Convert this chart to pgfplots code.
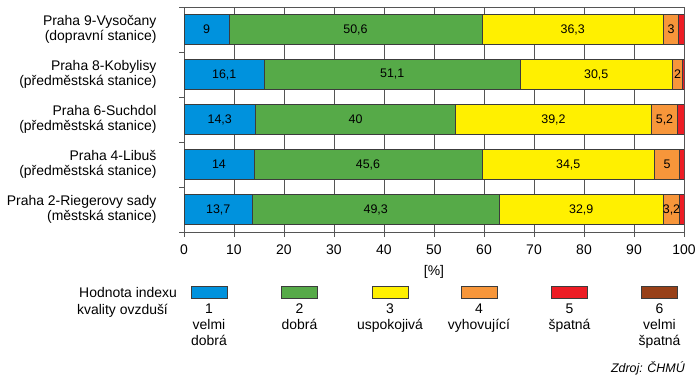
\documentclass[border=0pt]{standalone}
\usepackage{pgfplots}
\pgfplotsset{compat=1.18}
\usepackage{pgfplotstable}
\usepackage{fontspec}
\setmainfont{Liberation Sans}
\definecolor{c1}{RGB}{0,146,221}
\definecolor{c2}{RGB}{86,170,72}
\definecolor{c3}{RGB}{255,240,0}
\definecolor{c4}{RGB}{247,150,58}
\definecolor{c5}{RGB}{237,28,36}
\definecolor{c6}{RGB}{152,64,24}
\definecolor{ax}{RGB}{85,85,85}
\definecolor{edge}{RGB}{60,60,60}

\pgfplotstableread{
pos b g y o r
4 9 50.6 36.3 3 1.1
3 16.1 51.1 30.5 2 0.3
2 14.3 40 39.2 5.2 1.3
1 14 45.6 34.5 5 0.9
0 13.7 49.3 32.9 3.2 0.9
}\datatab

\begin{document}
\begin{tikzpicture}
\path[use as bounding box] (0,0) rectangle (700bp,383bp);
\begin{axis}[
  at={(184bp,151bp)}, anchor=south west,
  scale only axis, width=500bp, height=225bp,
  xbar stacked, bar width=30bp,
  xmin=0, xmax=100, ymin=-0.5, ymax=4.5,
  xtick={0,10,...,100},
  ytick={-0.5,0.5,...,4.5}, yticklabels={},
  extra y ticks={0,1,2,3,4},
  extra y tick labels={{Praha 2-Riegerovy sady\\(městská stanice)},{Praha 4-Libuš\\(předměstská stanice)},{Praha 6-Suchdol\\(předměstská stanice)},{Praha 8-Kobylisy\\(předměstská stanice)},{Praha 9-Vysočany\\(dopravní stanice)}},
  extra y tick style={tick style={draw=none}, yticklabel style={align=right, font=\fontsize{14}{15}\selectfont, xshift=-19bp}},
  tick pos=left, tick align=outside, major tick length=5bp,
  xmajorgrids, grid style={ax, line width=0.6pt},
  axis line style={ax, line width=0.7pt},
  tick style={ax, line width=0.7pt},
  ticklabel style={font=\fontsize{14}{15}\selectfont},
  xticklabel style={yshift=-4bp},
  /pgf/number format/assume math mode=true,
  /pgf/number format/use comma,
  every axis plot/.append style={draw=edge, line width=0.6pt},
  nodes near coords style={font=\fontsize{12.5}{14}\selectfont, text=black, anchor=center, /pgf/number format/use comma, /pgf/number format/assume math mode=true},
]
\addplot[fill=c1, draw=edge, nodes near coords, point meta=explicit] table[x=b, y=pos, meta=b] {\datatab};
\addplot[fill=c2, draw=edge, nodes near coords, point meta=explicit] table[x=g, y=pos, meta=g] {\datatab};
\addplot[fill=c3, draw=edge, nodes near coords, point meta=explicit] table[x=y, y=pos, meta=y] {\datatab};
\addplot[fill=c4, draw=edge, nodes near coords, point meta=explicit] table[x=o, y=pos, meta=o] {\datatab};
\addplot[fill=c5, draw=edge] table[x=r, y=pos] {\datatab};
\end{axis}
\node[font=\fontsize{14}{15}\selectfont] at (434bp,111bp) {[\%]};
% legend
\begin{scope}[font=\fontsize{14}{15}\selectfont]
\node[anchor=base west, inner sep=0] at (79bp,85bp) {Hodnota indexu};
\node[anchor=base west, inner sep=0] at (77bp,68bp) {kvality ovzduší};
\foreach \cx/\col/\num/\la/\lb in {209/c1/1/velmi/dobrá, 299.5/c2/2/dobrá/, 390/c3/3/uspokojivá/, 479/c4/4/vyhovující/, 569.5/c5/5/špatná/, 659.5/c6/6/velmi/špatná}{
  \draw[fill=\col, draw=edge, line width=0.6pt] (\cx bp-18bp,85bp) rectangle (\cx bp+18bp,97bp);
  \node[anchor=base, inner sep=0] at (\cx bp,69bp) {\num};
  \node[anchor=base, inner sep=0] at (\cx bp,53bp) {\la};
  \node[anchor=base, inner sep=0] at (\cx bp,38bp) {\lb};
}
\end{scope}
\node[anchor=base east, inner sep=0, font=\fontsize{12.5}{14}\selectfont\itshape] at (685bp,10.5bp) {Zdroj: ČHMÚ};
\end{tikzpicture}
\end{document}
